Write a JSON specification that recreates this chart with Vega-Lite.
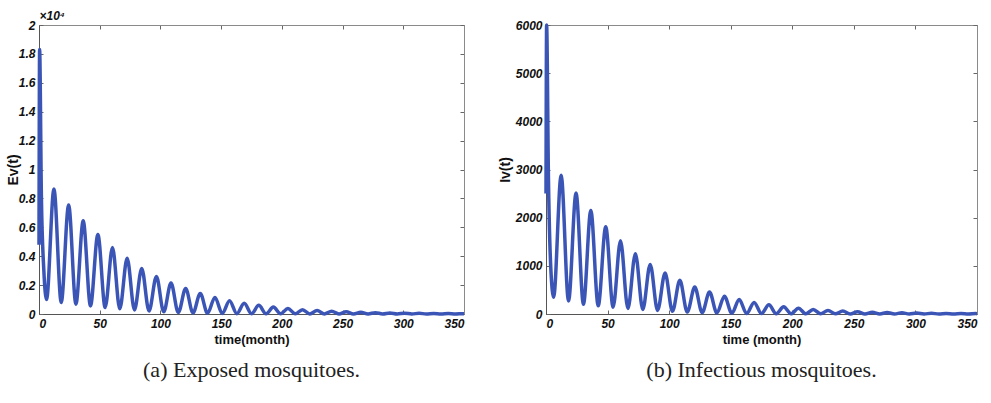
{
  "$schema": "https://vega.github.io/schema/vega-lite/v6.json",
  "background": "white",
  "padding": {"left": 5, "top": 9, "right": 14, "bottom": 0},
  "spacing": 25,
  "datasets": {
    "ev": [
      {"t": 0, "v": 4800}, {"t": 0.5, "v": 18300}, {"t": 2, "v": 8000}, {"t": 4, "v": 3000}, {"t": 6.2, "v": 1000},
      {"t": 12.3, "v": 8650}, {"t": 18.3, "v": 800}, {"t": 24.4, "v": 7550}, {"t": 30.4, "v": 680},
      {"t": 36.4, "v": 6450}, {"t": 42.4, "v": 560}, {"t": 48.5, "v": 5500}, {"t": 54.5, "v": 450},
      {"t": 60.5, "v": 4600}, {"t": 66.5, "v": 360}, {"t": 72.6, "v": 3850}, {"t": 78.6, "v": 280},
      {"t": 84.6, "v": 3150}, {"t": 90.6, "v": 210}, {"t": 96.7, "v": 2600}, {"t": 102.7, "v": 150},
      {"t": 108.7, "v": 2140}, {"t": 114.7, "v": 100}, {"t": 120.8, "v": 1760}, {"t": 126.8, "v": 70},
      {"t": 132.8, "v": 1420}, {"t": 138.8, "v": 50}, {"t": 144.9, "v": 1150}, {"t": 150.9, "v": 35},
      {"t": 156.9, "v": 920}, {"t": 162.9, "v": 25}, {"t": 169, "v": 740}, {"t": 175, "v": 20},
      {"t": 181, "v": 600}, {"t": 187, "v": 15}, {"t": 193, "v": 480}, {"t": 199, "v": 12},
      {"t": 205, "v": 380}, {"t": 211, "v": 10}, {"t": 217, "v": 300}, {"t": 223, "v": 8},
      {"t": 229, "v": 240}, {"t": 235, "v": 6}, {"t": 241, "v": 190}, {"t": 247, "v": 5},
      {"t": 253, "v": 150}, {"t": 259, "v": 4}, {"t": 265, "v": 120}, {"t": 271, "v": 3},
      {"t": 277, "v": 95}, {"t": 283, "v": 3}, {"t": 289, "v": 75}, {"t": 295, "v": 2},
      {"t": 301, "v": 60}, {"t": 307, "v": 2}, {"t": 313, "v": 48}, {"t": 319, "v": 2},
      {"t": 325, "v": 38}, {"t": 331, "v": 1}, {"t": 337, "v": 30}, {"t": 343, "v": 1},
      {"t": 349, "v": 24}, {"t": 350, "v": 22}
    ],
    "iv": [
      {"t": 0, "v": 2500}, {"t": 0.5, "v": 6000}, {"t": 2, "v": 2800}, {"t": 4, "v": 900}, {"t": 6.2, "v": 350},
      {"t": 12.3, "v": 2880}, {"t": 18.3, "v": 270}, {"t": 24.4, "v": 2510}, {"t": 30.4, "v": 200},
      {"t": 36.4, "v": 2150}, {"t": 42.4, "v": 170}, {"t": 48.5, "v": 1810}, {"t": 54.5, "v": 140},
      {"t": 60.5, "v": 1520}, {"t": 66.5, "v": 115}, {"t": 72.6, "v": 1250}, {"t": 78.6, "v": 95},
      {"t": 84.6, "v": 1030}, {"t": 90.6, "v": 75}, {"t": 96.7, "v": 850}, {"t": 102.7, "v": 55},
      {"t": 108.7, "v": 700}, {"t": 114.7, "v": 40}, {"t": 120.8, "v": 560}, {"t": 126.8, "v": 30},
      {"t": 132.8, "v": 455}, {"t": 138.8, "v": 20}, {"t": 144.9, "v": 370}, {"t": 150.9, "v": 15},
      {"t": 156.9, "v": 300}, {"t": 162.9, "v": 10}, {"t": 169, "v": 240}, {"t": 175, "v": 8},
      {"t": 181, "v": 190}, {"t": 187, "v": 6}, {"t": 193, "v": 150}, {"t": 199, "v": 5},
      {"t": 205, "v": 120}, {"t": 211, "v": 4}, {"t": 217, "v": 95}, {"t": 223, "v": 3},
      {"t": 229, "v": 75}, {"t": 235, "v": 3}, {"t": 241, "v": 60}, {"t": 247, "v": 2},
      {"t": 253, "v": 48}, {"t": 259, "v": 2}, {"t": 265, "v": 38}, {"t": 271, "v": 2},
      {"t": 277, "v": 30}, {"t": 283, "v": 1}, {"t": 289, "v": 24}, {"t": 295, "v": 1},
      {"t": 301, "v": 19}, {"t": 307, "v": 1}, {"t": 313, "v": 15}, {"t": 319, "v": 1},
      {"t": 325, "v": 12}, {"t": 331, "v": 1}, {"t": 337, "v": 10}, {"t": 343, "v": 1},
      {"t": 349, "v": 8}, {"t": 350, "v": 7}
    ]
  },
  "config": {
    "view": {"stroke": "#8a8a8a", "strokeWidth": 1},
    "axis": {
      "grid": false,
      "labelFont": "Liberation Sans", "labelFontWeight": "bold", "labelFontStyle": "italic",
      "labelFontSize": 12, "labelColor": "#111",
      "titleFont": "Liberation Sans", "titleFontWeight": "bold", "titleFontSize": 13, "titleColor": "#111",
      "domainColor": "#555", "tickColor": "#666", "tickSize": -4, "labelPadding": 8
    }
  },
  "hconcat": [
    {
      "width": 425, "height": 289,
      "data": {"name": "ev"},
      "title": {"text": "(a) Exposed mosquitoes.", "orient": "bottom", "anchor": "middle", "frame": "group",
                "font": "Liberation Serif", "fontSize": 22, "fontWeight": "normal", "offset": 14, "color": "#222"},
      "layer": [
        {
          "mark": {"type": "line", "color": "#3b55b6", "strokeWidth": 3.5, "interpolate": "monotone"},
          "encoding": {
            "x": {"field": "t", "type": "quantitative", "scale": {"domain": [0, 350], "nice": false},
                  "axis": {"values": [0, 50, 100, 150, 200, 250, 300, 350], "title": "time(month)", "titlePadding": 4}},
            "y": {"field": "v", "type": "quantitative", "scale": {"domain": [0, 20000], "nice": false},
                  "axis": {"values": [0, 2000, 4000, 6000, 8000, 10000, 12000, 14000, 16000, 18000, 20000],
                           "labelExpr": "format(datum.value / 10000, '~g')", "title": "Ev(t)", "titleFontSize": 14, "titlePadding": -2}}
          }
        },
        {
          "mark": {"type": "line", "opacity": 0},
          "encoding": {
            "x": {"field": "t", "type": "quantitative",
                  "axis": {"orient": "top", "values": [0, 50, 100, 150, 200, 250, 300, 350], "labels": false,
                           "domainColor": "#8a8a8a", "title": "×10⁴", "titleAnchor": "start", "titleAlign": "left",
                           "titleFontSize": 12, "titleFontStyle": "italic", "titlePadding": 2}},
            "y": {"field": "v", "type": "quantitative",
                  "axis": {"orient": "right", "values": [0, 2000, 4000, 6000, 8000, 10000, 12000, 14000, 16000, 18000, 20000],
                           "labels": false, "domainColor": "#8a8a8a", "title": null}}
          }
        }
      ],
      "resolve": {"axis": {"x": "independent", "y": "independent"}}
    },
    {
      "width": 431, "height": 289,
      "data": {"name": "iv"},
      "title": {"text": "(b) Infectious mosquitoes.", "orient": "bottom", "anchor": "middle", "frame": "group",
                "font": "Liberation Serif", "fontSize": 22, "fontWeight": "normal", "offset": 14, "color": "#222"},
      "layer": [
        {
          "mark": {"type": "line", "color": "#3b55b6", "strokeWidth": 3.5, "interpolate": "monotone"},
          "encoding": {
            "x": {"field": "t", "type": "quantitative", "scale": {"domain": [0, 350], "nice": false},
                  "axis": {"values": [0, 50, 100, 150, 200, 250, 300, 350], "title": "time (month)", "titlePadding": 4}},
            "y": {"field": "v", "type": "quantitative", "scale": {"domain": [0, 6000], "nice": false},
                  "axis": {"values": [0, 1000, 2000, 3000, 4000, 5000, 6000], "format": "d", "title": "Iv(t)", "titleFontSize": 14, "titlePadding": 3}}
          }
        },
        {
          "mark": {"type": "line", "opacity": 0},
          "encoding": {
            "x": {"field": "t", "type": "quantitative",
                  "axis": {"orient": "top", "values": [0, 50, 100, 150, 200, 250, 300, 350], "labels": false,
                           "domainColor": "#8a8a8a", "title": null}},
            "y": {"field": "v", "type": "quantitative",
                  "axis": {"orient": "right", "values": [0, 1000, 2000, 3000, 4000, 5000, 6000],
                           "labels": false, "domainColor": "#8a8a8a", "title": null}}
          }
        }
      ],
      "resolve": {"axis": {"x": "independent", "y": "independent"}}
    }
  ]
}
